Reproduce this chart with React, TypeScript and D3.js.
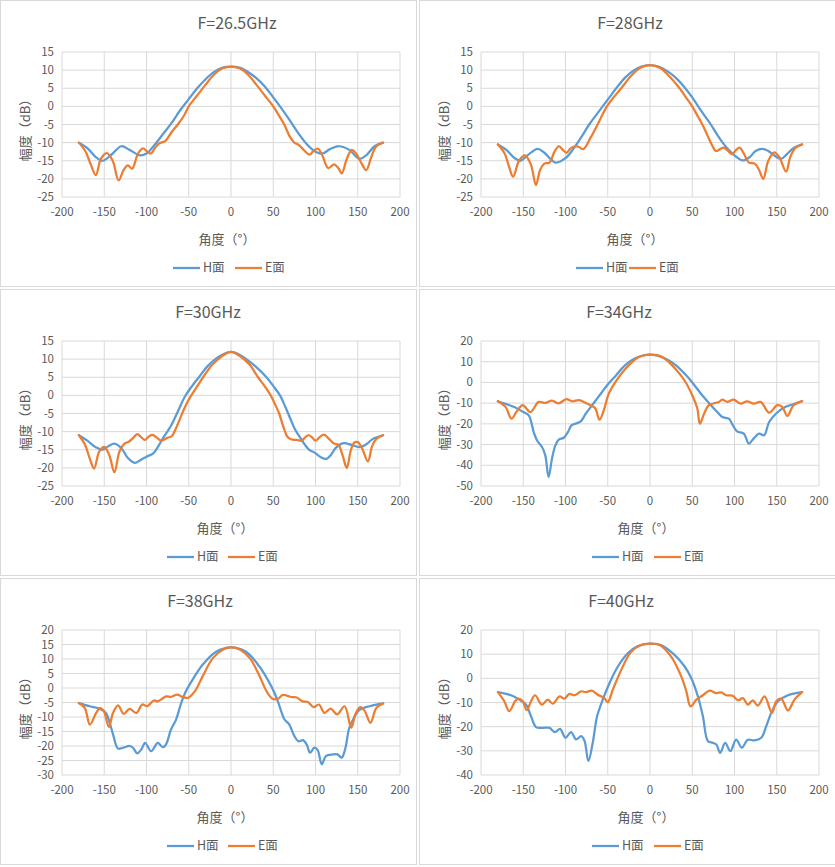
import * as d3 from "d3";
import React from "react";

// angle (deg), gain (dB)
const h265: [number, number][] = [
  [-180, -10], [-170, -11.5], [-160, -14], [-152, -15], [-140, -13], [-130, -11],
  [-120, -12], [-108, -13.5], [-100, -13], [-90, -10.5], [-80, -7.5], [-70, -4.5],
  [-60, -1], [-50, 2], [-40, 5], [-30, 7.5], [-20, 9.5], [-10, 10.7], [0, 11],
  [10, 10.7], [20, 9.5], [30, 7.8], [40, 5.5], [50, 2.5], [58, 0], [70, -4],
  [80, -7.5], [90, -10.5], [100, -12.5], [108, -13], [118, -11.7], [128, -11],
  [140, -12], [152, -14.5], [160, -13.5], [170, -11], [180, -10],
];
const e265: [number, number][] = [
  [-180, -10], [-172, -12.5], [-166, -16], [-160, -19], [-154, -14.5], [-147, -12.9],
  [-140, -15], [-133, -20.4], [-127, -17.5], [-122, -16.3], [-117, -17.2], [-110, -13],
  [-104, -11.6], [-100, -12.3], [-95, -13], [-90, -11.5], [-85, -10.2], [-78, -9.6],
  [-70, -7], [-63, -5], [-55, -2.3], [-50, 0], [-40, 3], [-30, 6], [-20, 8.8],
  [-10, 10.5], [0, 11], [10, 10.5], [20, 8.8], [30, 6], [40, 3], [50, 0], [57, -2.6],
  [63, -5], [70, -8.5], [75, -10], [80, -10.6], [86, -12], [93, -13.3], [98, -12.2],
  [103, -11.7], [108, -13.5], [115, -17], [122, -16], [127, -17], [131, -18.5],
  [137, -14.5], [143, -12], [148, -13], [154, -15.5], [160, -17.6], [166, -14],
  [172, -11], [180, -10],
];

const h28: [number, number][] = [
  [-180, -10.5], [-170, -12], [-160, -14.3], [-153, -15], [-145, -13.5], [-133, -11.7],
  [-125, -12.8], [-112, -15.5], [-100, -14.3], [-90, -11.5], [-80, -8], [-72, -5],
  [-64, -2.5], [-56, 0], [-48, 2.5], [-40, 5], [-30, 7.8], [-20, 9.8], [-10, 11],
  [0, 11.4], [10, 11], [20, 9.8], [30, 8], [40, 5.5], [50, 2.5], [57, 0], [65, -2.7],
  [72, -5], [80, -8], [86, -10], [93, -12], [100, -13.5], [110, -14.9], [118, -14],
  [125, -12.3], [133, -11.7], [140, -12.3], [148, -13.7], [155, -14.5], [162, -13.2],
  [170, -11.5], [180, -10.5],
];
const e28: [number, number][] = [
  [-180, -10.5], [-172, -13], [-167, -16.5], [-162, -19.4], [-155, -15], [-148, -13.5],
  [-141, -16], [-135, -21.7], [-130, -17.5], [-125, -15.8], [-119, -15.5], [-113, -12.5],
  [-108, -11], [-103, -12], [-99, -12.8], [-94, -11.6], [-89, -11], [-84, -11.2],
  [-79, -11.8], [-70, -8.5], [-62, -5], [-51, 0], [-42, 2.8], [-34, 5], [-22, 8.5],
  [-12, 10.6], [0, 11.4], [12, 10.6], [22, 8.5], [35, 5], [44, 2], [50, 0], [56, -2.5],
  [62, -5], [68, -8], [73, -10.5], [78, -12.3], [83, -11.8], [87, -11.4], [92, -12.2],
  [97, -13.2], [102, -12], [106, -11.4], [111, -13], [117, -15.5], [124, -15.8],
  [129, -17.5], [134, -20], [140, -15], [147, -12.7], [153, -14], [161, -18],
  [166, -14], [172, -11.5], [180, -10.5],
];

const h30: [number, number][] = [
  [-180, -11], [-170, -12.5], [-160, -14.3], [-152, -15], [-145, -14], [-138, -13.3],
  [-130, -14.5], [-122, -17.3], [-114, -18.6], [-107, -17.8], [-100, -16.9], [-92, -16],
  [-86, -14], [-81, -12], [-71, -8.4], [-63, -4.5], [-55, -0.5], [-47, 2.3], [-38, 5],
  [-28, 8], [-17, 10.3], [-8, 11.5], [0, 12], [8, 11.5], [18, 10], [30, 7.8], [42, 5],
  [50, 2.6], [58, 0], [64, -3], [70, -6.3], [76, -9.5], [83, -12], [88, -13.8],
  [93, -15.1], [99, -15.8], [106, -17], [113, -17.5], [118, -16.5], [124, -14.5],
  [133, -13.2], [142, -13.6], [152, -14.3], [160, -13.5], [168, -12], [180, -11],
];
const e30: [number, number][] = [
  [-180, -11], [-173, -13.5], [-167, -17.5], [-162, -20.2], [-156, -15.5], [-150, -14.2],
  [-144, -16.5], [-138, -21.2], [-132, -15.5], [-126, -13.3], [-121, -12.8],
  [-116, -11.8], [-111, -10.7], [-106, -11.6], [-102, -12.3], [-97, -11.3], [-93, -10.9],
  [-88, -11.6], [-83, -12.5], [-76, -11.8], [-70, -11.2], [-65, -9], [-58, -5.1],
  [-53, -2.5], [-47, 0], [-40, 2.5], [-33, 5], [-22, 8.5], [-12, 10.6], [0, 12],
  [12, 10.6], [22, 8.5], [32, 5], [40, 2.5], [47, 0], [52, -2.4], [57, -5],
  [61, -8], [64, -10], [67, -11.5], [71, -12.1], [78, -12.3], [84, -12.5], [88, -11.5],
  [92, -11], [96, -11.6], [100, -12.5], [105, -11.5], [110, -10.8], [116, -12],
  [122, -13.3], [127, -13.6], [132, -16.5], [137, -20], [142, -15], [146, -13],
  [150, -12.9], [155, -14.5], [162, -18.2], [167, -14], [172, -12], [180, -11],
];

const h34: [number, number][] = [
  [-180, -9.1], [-170, -10.5], [-160, -12], [-150, -14.3], [-143.5, -15.9],
  [-137.6, -24], [-133.7, -28], [-127.8, -31.2], [-123.9, -35.2], [-120, -45.6],
  [-116, -36.8], [-112, -30.4], [-108, -27.6], [-102, -26.7], [-97, -23.9],
  [-93, -20.7], [-88, -19.9], [-82, -18.8], [-76, -15.1], [-68.5, -11], [-62.6, -7.8],
  [-56.7, -4.6], [-50, -1], [-40, 3.5], [-29, 8.5], [-18, 11.5], [-8, 13], [0, 13.4],
  [8, 13], [18, 11.5], [30, 8.5], [42, 3.8], [50, 0], [61.8, -6.2], [69.7, -9.9],
  [79.6, -14.3], [85.5, -16.7], [93.4, -17.5], [97, -19.9], [103, -23.6], [111, -24.7],
  [117, -29.6], [121, -27.9], [129, -24.7], [135, -25.5], [141, -19.1], [149, -15.1],
  [160.5, -11.8], [172, -10.2], [180, -9.1],
];
const e34: [number, number][] = [
  [-180, -9.1], [-171, -11.8], [-164, -17.5], [-157, -13.5], [-150.6, -11],
  [-141.6, -14.3], [-131.7, -9.4], [-124, -9.9], [-116, -8.8], [-108, -10.1],
  [-99, -8.1], [-92, -9.1], [-84, -8.5], [-76, -9.9], [-68.5, -11.4], [-64.6, -12.6],
  [-59.8, -18], [-54.7, -13.5], [-48.8, -5.4], [-41, 0.2], [-29, 6.6], [-13.3, 12.3],
  [0, 13.4], [14.4, 12.3], [30, 6.6], [42, 0.2], [50, -6.2], [56, -12.6], [59, -19.9],
  [64, -15.1], [69.7, -11], [81.5, -9.4], [85.5, -8.3], [91.4, -9.4], [99, -8.3],
  [107, -10.2], [115, -9.1], [123, -10.2], [131, -9.4], [141, -14.6], [150.6, -11],
  [156.5, -11.8], [162.5, -16.2], [170, -11], [180, -9],
];

const h38: [number, number][] = [
  [-180, -5.2], [-167, -6.3], [-155, -7.2], [-148, -8.6], [-143.5, -12], [-139.6, -16],
  [-133.7, -20.9], [-127.8, -20.6], [-120, -20], [-116, -20.6], [-111, -22.5],
  [-106, -21.1], [-101.6, -18.9], [-94.5, -21.8], [-86.6, -18.9], [-80.8, -20.4],
  [-77, -19.5], [-71, -14.3], [-65, -10.9], [-59, -5.2], [-53.5, -1.2], [-45.6, 2.8],
  [-33.6, 8], [-17.6, 12.5], [0, 14], [17.7, 12.5], [33.6, 7.4], [43.6, 2.8],
  [51.5, -1.7], [57.5, -6.3], [63, -10.7], [69, -12.6], [75, -16.6], [80, -18.4],
  [85, -18], [89.6, -19.5], [93.5, -22.3], [98.7, -20.6], [102.6, -21.4],
  [107.4, -26.3], [112.5, -23.4], [120.4, -22.9], [126, -22.9], [131, -24],
  [135, -21.2], [140, -13.7], [145.5, -10.3], [152, -7.5], [164, -6.3], [180, -5.3],
];
const e38: [number, number][] = [
  [-180, -5.2], [-173, -6.9], [-167, -12.6], [-159.6, -8.6], [-155, -6.9],
  [-150.5, -8], [-144.6, -13.4], [-139.6, -8.6], [-133.7, -6], [-127, -8.9],
  [-120, -7.2], [-112, -8.6], [-105, -5.7], [-99, -6.3], [-91.5, -4.3], [-86.6, -4.6],
  [-76.7, -2.9], [-71, -3.1], [-63.6, -2.3], [-57, -3.1], [-50.8, -3.4], [-42.7, -1.1],
  [-33.6, 4], [-21.5, 10.3], [-9.3, 13.3], [0, 14], [10.4, 13.3], [22.2, 10.3],
  [34, 4], [42, -1.1], [49, -3.7], [55.5, -3.7], [61.4, -2.4], [71, -3.1], [77, -3.2],
  [85, -4.6], [91, -4.8], [97.7, -6.6], [104, -5.7], [110.7, -8.6], [118, -7.1],
  [125.6, -9.1], [134.4, -6.3], [142.3, -13.7], [147.5, -8.8], [153, -6.6],
  [158, -7.8], [165, -12], [172, -6.9], [180, -5.3],
];

const h40: [number, number][] = [
  [-180, -5.7], [-164.5, -7], [-154.6, -8.8], [-146.7, -10.9], [-140.8, -15.7],
  [-134.9, -20.2], [-127, -20.5], [-119, -20.5], [-112.4, -22.3], [-106.5, -20.9],
  [-100, -24.6], [-93.4, -22.3], [-87.5, -25.3], [-81.5, -23.9], [-77.6, -25.7],
  [-72.9, -34.2], [-67.8, -26.7], [-62.6, -15.7], [-55.9, -8.8], [-48, -2],
  [-38, 4.9], [-26.3, 10.4], [-14.4, 13.4], [0, 14.4], [13, 13.8], [29, 9.7],
  [41, 4.9], [48.8, 0.1], [56.7, -7.5], [62.6, -15.7], [68.6, -26], [74.5, -26.7],
  [78.5, -27.4], [83, -30.8], [89, -26.7], [95, -30.1], [102, -25.4], [108.7, -28.7],
  [115.8, -25.4], [123.7, -25.7], [131.6, -24.6], [137.6, -19.8], [143.5, -14.3],
  [151.4, -9.5], [163.3, -7], [180, -5.7],
];
const e40: [number, number][] = [
  [-180, -5.7], [-172.4, -9.5], [-166.5, -13.6], [-159.7, -9.5], [-155.8, -8.4],
  [-150.6, -9.5], [-145.9, -13.2], [-140.8, -9.5], [-136, -7], [-128, -10.9],
  [-121, -8.8], [-115, -10.5], [-107, -7.5], [-101.3, -8.4], [-95.4, -6.4],
  [-89.4, -7], [-81.6, -5.4], [-75.7, -5.7], [-69, -5.1], [-61.8, -6.8], [-53.9, -8.2],
  [-50, -9.9], [-44, -4.7], [-34, 3.5], [-22.3, 11], [-10.4, 13.8], [0, 14.4],
  [11.3, 13.8], [25, 9], [37, 0.8], [43, -5.4], [48, -11.6], [54.9, -8.8], [62.6, -7],
  [70.5, -5.1], [78.5, -6.1], [84.3, -5.8], [90.2, -7], [98, -7.2], [104, -9.1],
  [110, -8.2], [115.8, -10.9], [121.7, -9.1], [127.6, -11.3], [135.5, -7.5],
  [144.3, -14.3], [149.4, -9.5], [155.4, -8.5], [163.3, -13.3], [171, -8.8], [180, -5.7],
];

const titles = ["F=26.5GHz", "F=28GHz", "F=30GHz", "F=34GHz", "F=38GHz", "F=40GHz"];
const hSeries = [h265, h28, h30, h34, h38, h40];
const eSeries = [e265, e28, e30, e34, e38, e40];
const yTicksList = [
  d3.range(-25, 16, 5),
  d3.range(-25, 16, 5),
  d3.range(-25, 16, 5),
  d3.range(-50, 21, 10),
  d3.range(-30, 21, 5),
  d3.range(-40, 21, 10),
];
const xTicks = d3.range(-200, 201, 50);
const seriesNames = ["H面", "E面"];

const BLUE = "#5b9bd5";
const ORANGE = "#ed7d31";
const TEXT = "#595959";
const GRID = "#d9d9d9";

const PW = 417;
const PH = 287;
const plot = { left: 62, right: 400, top: 52, bottom: 197 };

// small per-panel offsets of title / axis title / legend as in the source
const titleX = [237, 211, 208, 200, 200, 202];
const axisTitleX = [227, 216, 225, 227, 225, 227];
const legendX = [
  [173, 235],
  [157, 210],
  [167, 228],
  [173, 235],
  [167, 228],
  [173, 235],
];

const Panel: React.FC<{ i: number }> = ({ i }) => {
  const yTicks = yTicksList[i];
  const x = d3.scaleLinear().domain([-200, 200]).range([plot.left, plot.right]);
  const y = d3
    .scaleLinear()
    .domain([yTicks[0], yTicks[yTicks.length - 1]])
    .range([plot.bottom, plot.top]);
  const line = d3
    .line<[number, number]>()
    .x((d) => x(d[0]))
    .y((d) => y(d[1]))
    .curve(d3.curveCatmullRom.alpha(0.5));
  const col = i % 2;
  const row = Math.floor(i / 2);

  return (
    <g transform={`translate(${col * 419},${row * 289})`}>
      <rect x={0.5} y={0.5} width={PW - 1} height={PH - 1} fill="#fff" stroke={GRID} />
      <text x={titleX[i]} y={29} textAnchor="middle" fontSize={16} fill={TEXT}>
        {titles[i]}
      </text>
      {yTicks.map((t) => (
        <g key={`y${t}`}>
          <line x1={plot.left} x2={plot.right} y1={y(t)} y2={y(t)} stroke={GRID} />
          <text x={plot.left - 8} y={y(t)} dy="0.35em" textAnchor="end" fontSize={11.5} fill={TEXT}>
            {t}
          </text>
        </g>
      ))}
      {xTicks.map((t) => (
        <g key={`x${t}`}>
          <line x1={x(t)} x2={x(t)} y1={plot.top} y2={plot.bottom} stroke={GRID} />
          <text x={x(t)} y={plot.bottom + 15} dy="0.35em" textAnchor="middle" fontSize={11.5} fill={TEXT}>
            {t}
          </text>
        </g>
      ))}
      <path d={line(hSeries[i]) ?? ""} fill="none" stroke={BLUE} strokeWidth={2.25} strokeLinecap="round" strokeLinejoin="round" />
      <path d={line(eSeries[i]) ?? ""} fill="none" stroke={ORANGE} strokeWidth={2.25} strokeLinecap="round" strokeLinejoin="round" />
      <text x={axisTitleX[i]} y={239} dy="0.35em" textAnchor="middle" fontSize={13} fill={TEXT}>
        角度（°）
      </text>
      <text transform="translate(25,127) rotate(-90)" dy="0.35em" textAnchor="middle" fontSize={13} fill={TEXT}>
        幅度（dB）
      </text>
      {seriesNames.map((name, k) => (
        <g key={name} transform={`translate(${legendX[i][k]},268)`}>
          <line x1={0} x2={27} y1={0} y2={0} stroke={k === 0 ? BLUE : ORANGE} strokeWidth={2.25} />
          <text x={30} y={0} dy="0.35em" fontSize={12.5} fill={TEXT}>
            {name}
          </text>
        </g>
      ))}
    </g>
  );
};

export default function App() {
  return (
    <svg
      width={835}
      height={867}
      style={{ position: "absolute", left: 0, top: 0, background: "#fff" }}
      fontFamily="'Noto Sans CJK SC', 'Noto Sans', sans-serif"
    >
      {titles.map((_, i) => (
        <Panel key={i} i={i} />
      ))}
    </svg>
  );
}
